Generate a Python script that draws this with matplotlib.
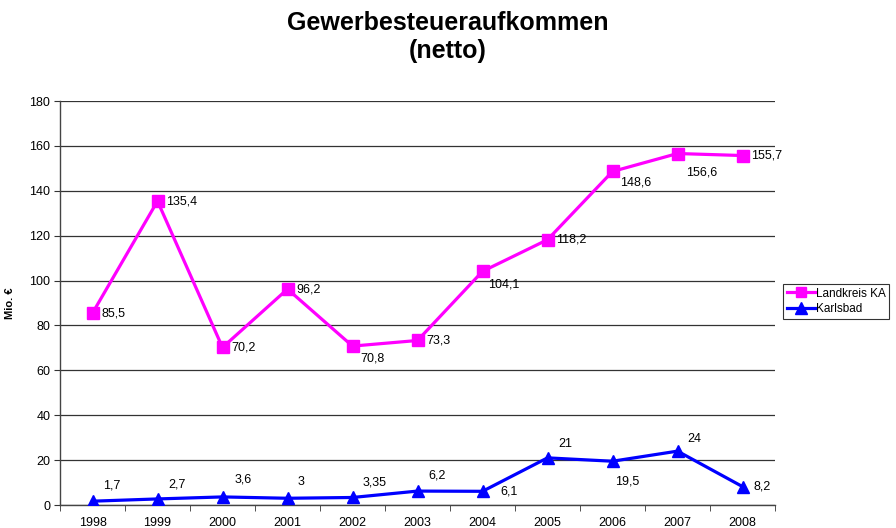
import matplotlib
matplotlib.use("Agg")
import matplotlib.pyplot as plt

years = ["1998", "1999", "2000", "2001", "2002", "2003", "2004", "2005", "2006", "2007", "2008"]
landkreis = [85.5, 135.4, 70.2, 96.2, 70.8, 73.3, 104.1, 118.2, 148.6, 156.6, 155.7]
landkreis_labels = ["85,5", "135,4", "70,2", "96,2", "70,8", "73,3", "104,1", "118,2", "148,6", "156,6", "155,7"]
karlsbad = [1.7, 2.7, 3.6, 3, 3.35, 6.2, 6.1, 21, 19.5, 24, 8.2]
karlsbad_labels = ["1,7", "2,7", "3,6", "3", "3,35", "6,2", "6,1", "21", "19,5", "24", "8,2"]
yticks = [0, 20, 40, 60, 80, 100, 120, 140, 160, 180]

# label offsets in pixels (dx, dy)
lk_off = [(9, 0), (9, 0), (9, 0), (9, 0), (8, -12), (9, 0), (6, -13), (9, 0), (8, -11), (9, -19), (9, 0)]
kb_off = [(11, 16), (11, 14), (12, 17), (10, 16), (10, 15), (11, 16), (18, 0), (11, 14), (3, -20), (10, 12), (11, 0)]

plt.rcParams['font.family'] = ['Liberation Sans', 'DejaVu Sans']

fig = plt.figure(figsize=(8.96, 5.28), dpi=100)
ax = fig.add_axes([60/896, 1-505/528, (775-60)/896, (505-101)/528])

x = list(range(len(years)))
l1, = ax.plot(x, landkreis, color='#FF00FF', lw=2.3, marker='s', ms=8, label='Landkreis KA', zorder=3)
l2, = ax.plot(x, karlsbad, color='#0000FF', lw=2.3, marker='^', ms=9, label='Karlsbad', zorder=3)

px = 72/100
for xi, v, t, (dx, dy) in zip(x, landkreis, landkreis_labels, lk_off):
    ax.annotate(t, (xi, v), xytext=(dx*px, dy*px), textcoords='offset points',
                ha='left', va='center', fontsize=9, color='black', zorder=4)
for xi, v, t, (dx, dy) in zip(x, karlsbad, karlsbad_labels, kb_off):
    ax.annotate(t, (xi, v), xytext=(dx*px, dy*px), textcoords='offset points',
                ha='left', va='center', fontsize=9, color='black', zorder=4)

ax.set_xlim(-0.5, len(years)-0.5)
ax.set_ylim(0, 180)
ax.set_yticks(yticks)
ax.set_yticklabels([str(t) for t in yticks], fontsize=9)
ax.set_xticks(x)
ax.set_xticklabels(years, fontsize=9)
ax.set_xticks([i - 0.5 for i in range(len(years)+1)], minor=True)
ax.tick_params(axis='x', which='major', length=0, pad=9)
ax.tick_params(axis='x', which='minor', length=4, direction='out', color='#333333')
ax.tick_params(axis='y', length=4, direction='out', color='#333333', pad=3)
ax.yaxis.grid(True, color='#333333', lw=0.9)
ax.set_axisbelow(True)
for s in ['top', 'right']:
    ax.spines[s].set_visible(False)
for s in ['left', 'bottom']:
    ax.spines[s].set_color('#444444')
    ax.spines[s].set_linewidth(1.0)

ax.set_ylabel('Mio. €', fontsize=8, fontweight='bold', labelpad=10)

fig.text(0.5, 1-37/528, 'Gewerbesteueraufkommen\n(netto)', ha='center', va='center',
         fontsize=18, fontweight='bold', linespacing=1.25)

leg = fig.legend(handles=[l1, l2], loc='upper left', bbox_to_anchor=(783/896, 1-284/528),
                 fontsize=8.5, frameon=True, fancybox=False, edgecolor='black',
                 handlelength=2.4, handletextpad=0.1, borderpad=0.3, labelspacing=0.3,
                 borderaxespad=0, markerscale=0.9)
leg.get_frame().set_linewidth(0.8)

fig.savefig('out.png', dpi=100)
